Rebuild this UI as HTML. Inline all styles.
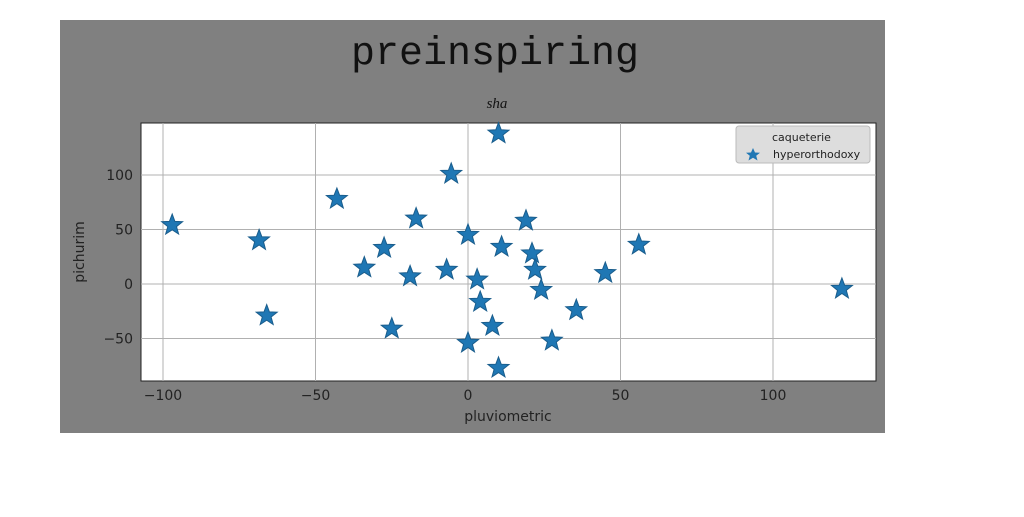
<!DOCTYPE html>
<html><head><meta charset="utf-8"><style>
body{margin:0;background:#fff;width:1024px;height:512px;overflow:hidden}
svg text{font-family:"DejaVu Sans","Liberation Sans",sans-serif}
</style></head><body>
<svg id="c" width="1024" height="512" xmlns="http://www.w3.org/2000/svg">
<rect x="60" y="20" width="825" height="413" fill="#808080"/>
<text x="495" y="64" font-size="40" text-anchor="middle" style="font-family:'Liberation Mono','DejaVu Sans Mono',monospace" fill="#111">preinspiring</text>
<text x="497" y="108" font-size="15" font-style="italic" text-anchor="middle" style="font-family:'Liberation Serif',serif" fill="#111">sha</text>
<rect x="141" y="123" width="735" height="258" fill="#fff" stroke="#222"/>
<g id="grid"></g><g id="ticks"></g><g id="pts"></g>
<text x="508" y="421" font-size="14" text-anchor="middle" fill="#222">pluviometric</text>
<text x="84" y="252" font-size="14" text-anchor="middle" fill="#222" transform="rotate(-90 84 252)">pichurim</text>
<g>
<rect x="736" y="126" width="134" height="37" rx="3" fill="#ddd" stroke="#bbb"/>
<text x="772" y="141" font-size="11" fill="#222">caqueterie</text>
<text x="773" y="158" font-size="11" fill="#222">hyperorthodoxy</text>
<polygon points="753,148 755,152.5 760,152.8 756.2,155.8 757.5,160.5 753,157.8 748.5,160.5 749.8,155.8 746,152.8 751,152.5" fill="#1f77b4"/>
</g>
</svg>
<script>
const xs=[-97,-68.5,-66,-43,-27.5,-34,-25,-17,-19,-5.5,-7,0,10,3,4,8,0,10,11,19,21,22,24,27.5,35.5,45,56,122.6];
const ys=[54,40,-29,78,33,15,-41,60,7,101,13,45,138,4,-16.5,-38.5,-54,-77,34,58,28,13,-5.5,-52,-24,10,36,-4.5];
const xTicks=[-100,-50,0,50,100];
const yTicks=[-50,0,50,100];
const X=v=>468+v*3.05, Y=v=>284-v*1.09;
const NS="http://www.w3.org/2000/svg";
const g=document.getElementById('grid'),t=document.getElementById('ticks'),p=document.getElementById('pts');
function mk(tag,a,par){const e=document.createElementNS(NS,tag);for(const k in a)e.setAttribute(k,a[k]);par.appendChild(e);return e;}
xTicks.forEach(v=>{
 const l=mk('line',{x1:X(v),x2:X(v),y1:123,y2:381,stroke:'#b0b0b0'},g);
 
 
 const s=mk('text',{x:X(v),y:400,'font-size':14,'text-anchor':'middle',fill:'#222'},t);
 s.textContent=v<0?'\u2212'+(-v):v;
 
 
});
yTicks.forEach(v=>{
 const l=mk('line',{x1:141,x2:876,y1:Y(v),y2:Y(v),stroke:'#b0b0b0'},g);
 
 
 const s=mk('text',{x:133,y:Y(v)+5,'font-size':14,'text-anchor':'end',fill:'#222'},t);
 s.textContent=v<0?'\u2212'+(-v):v;
 
 
});
function star(cx,cy,R){const r=R*0.42;let pts=[];for(let i=0;i<10;i++){const a=-Math.PI/2+i*Math.PI/5,rr=i%2?r:R;pts.push((cx+rr*Math.cos(a)).toFixed(1)+','+(cy+rr*Math.sin(a)).toFixed(1));}return pts.join(' ');}
xs.forEach((v,i)=>{
 const s=mk('polygon',{points:star(X(v),Y(ys[i]),11),fill:'#1f77b4',stroke:'#1a5d8c','stroke-width':1},p);
 
 
});
</script>
</body></html>
